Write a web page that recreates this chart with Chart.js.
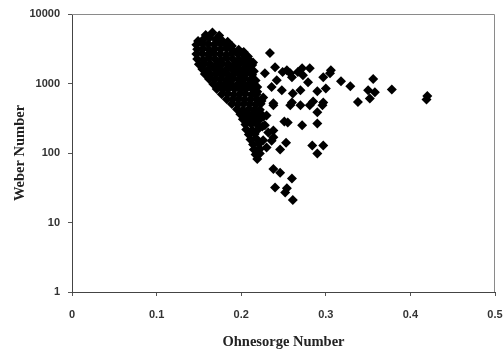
<!DOCTYPE html>
<html>
<head>
<meta charset="utf-8">
<script src="https://cdn.jsdelivr.net/npm/chart.js@4/dist/chart.umd.min.js"></script>
<style>
html,body{margin:0;padding:0;background:#fff;}
#c{display:block;}
</style>
</head>
<body>
<canvas id="c" width="503" height="351"></canvas>
<script>
// Dense cluster (Ohnesorge, Weber)
const denseOh = [
0.158,0.166,0.174,
0.149,0.156,0.163,0.170,0.177,0.184,
0.147,0.154,0.161,0.168,0.175,0.182,0.189,
0.148,0.155,0.162,0.169,0.176,0.183,0.190,0.197,0.203,
0.147,0.154,0.161,0.168,0.175,0.182,0.189,0.196,0.203,0.208,
0.148,0.155,0.162,0.169,0.176,0.183,0.190,0.197,0.204,0.210,
0.150,0.157,0.164,0.171,0.178,0.185,0.192,0.199,0.206,0.213,
0.154,0.161,0.168,0.175,0.182,0.189,0.196,0.203,0.210,0.215,
0.157,0.164,0.171,0.178,0.185,0.192,0.199,0.206,0.213,
0.162,0.169,0.176,0.183,0.190,0.197,0.204,0.211,0.217,
0.167,0.174,0.181,0.188,0.195,0.202,0.209,0.215,
0.171,0.178,0.185,0.192,0.199,0.206,0.213,0.219,
0.177,0.184,0.191,0.198,0.205,0.212,0.218,
0.183,0.190,0.197,0.204,0.211,0.218,0.224,
0.189,0.196,0.203,0.210,0.217,0.223,
0.195,0.202,0.209,0.216,0.222,
0.199,0.206,0.213,0.220,0.226,
0.202,0.209,0.216,0.222,
0.205,0.212,0.219,0.225,
0.206,0.213,0.220,
0.209,0.216,
0.211,0.218,
0.214,0.221,
0.215,0.222,
0.217,
0.219
];
const denseWe = [
5000,5400,4900,
4100,4400,4600,4300,4200,4000,
3600,3800,3700,3650,3750,3600,3450,
3100,3200,3050,3150,3100,3200,3000,3050,2850,
2650,2700,2600,2700,2650,2600,2700,2650,2550,2450,
2250,2200,2300,2250,2200,2300,2250,2200,2250,2150,
1900,1950,1880,1900,1920,1870,1900,1950,1880,1850,
1620,1600,1650,1600,1580,1630,1600,1620,1580,1500,
1370,1350,1380,1360,1340,1370,1350,1380,1340,
1160,1150,1170,1140,1160,1150,1170,1140,1100,
980,970,990,980,960,990,980,970,
830,820,840,830,820,840,830,760,
700,710,690,700,710,690,700,
595,590,600,595,590,600,560,
505,500,510,505,500,510,
425,420,430,425,420,
360,365,355,360,330,
305,300,310,305,
258,262,255,240,
218,215,220,
185,188,
157,160,
133,135,
112,114,
95,
82
];
// Scattered points (Ohnesorge, Weber)
const sparseOh = [
0.420,0.419,0.378,0.356,0.350,0.358,0.352,0.338,0.329,0.318,
0.305,0.306,0.297,0.290,0.300,0.297,0.281,0.267,0.272,0.258,
0.254,0.279,0.270,0.285,0.255,0.251,0.272,0.290,0.284,0.297,
0.290,0.253,0.246,0.238,0.230,0.222,0.219,0.238,0.246,0.260,
0.240,0.254,0.252,0.261,0.234,0.202,0.214,0.228,0.240,0.249,
0.260,0.242,0.236,0.248,0.260,0.238,0.226,0.219,0.230,0.238,
0.238,0.258,0.270,0.281,0.296,0.290,0.236,0.261,0.273,0.225,
0.228,0.232,0.226
];
const sparseWe = [
660,590,818,1160,800,750,610,542,912,1077,
1406,1550,1230,775,850,535,1660,1460,1660,1400,
1550,1040,800,550,275,285,250,265,128,128,
98,141,112,168,120,98,109,59,52,43,
32,31,27,21,2750,2750,2000,1400,1720,1460,
1230,1110,890,800,535,520,630,890,345,211,
485,485,485,485,485,385,150,720,1316,350,
250,198,152
];
const xTicks = [0, 0.1, 0.2, 0.3, 0.4, 0.5];
const xTickLabels = ['0', '0.1', '0.2', '0.3', '0.4', '0.5'];
const yTicks = [1, 10, 100, 1000, 10000];
const yTickLabels = ['1', '10', '100', '1000', '10000'];

const points = [];
denseOh.forEach((x, i) => points.push({x: x, y: denseWe[i]}));
sparseOh.forEach((x, i) => points.push({x: x, y: sparseWe[i]}));

const framePlugin = {
  id: 'frame',
  afterDraw(chart) {
    const a = chart.chartArea, ctx = chart.ctx;
    ctx.save();
    ctx.strokeStyle = '#8a8a8a';
    ctx.lineWidth = 1;
    ctx.beginPath();
    ctx.moveTo(a.left, a.top + 0.5);
    ctx.lineTo(a.right - 0.5, a.top + 0.5);
    ctx.lineTo(a.right - 0.5, a.bottom);
    ctx.stroke();
    ctx.restore();
  }
};

const tickFont = {family: 'Liberation Sans', size: 11, weight: 'bold'};
const titleFont = {family: 'Liberation Serif', size: 14.5, weight: 'bold'};

new Chart(document.getElementById('c'), {
  type: 'scatter',
  data: {
    datasets: [{
      data: points,
      pointStyle: 'rectRot',
      pointRadius: 5,
      pointHoverRadius: 5,
      backgroundColor: '#000',
      borderColor: '#000',
      borderWidth: 0
    }]
  },
  options: {
    responsive: false,
    animation: false,
    devicePixelRatio: 1,
    layout: {padding: {top: 14, right: 0, left: 0, bottom: 0}},
    plugins: {legend: {display: false}, tooltip: {enabled: false}},
    scales: {
      x: {
        type: 'linear',
        min: 0, max: 0.5,
        afterBuildTicks: (s) => { s.ticks = xTicks.map(v => ({value: v})); },
        afterFit: (s) => { s.height = 59; s.paddingRight = 8; s.paddingLeft = 0; },
        ticks: {
          font: tickFont, color: '#333', padding: 12, maxRotation: 0,
          callback: (v) => { const i = xTicks.indexOf(v); return i >= 0 ? xTickLabels[i] : ''; }
        },
        grid: {drawOnChartArea: false, drawTicks: true, tickLength: 4, color: '#555'},
        border: {display: true, color: '#444', width: 1},
        title: {display: true, text: 'Ohnesorge Number', font: titleFont, color: '#222', padding: {top: 6, bottom: 0}}
      },
      y: {
        type: 'logarithmic',
        min: 1, max: 10000,
        afterBuildTicks: (s) => { s.ticks = yTicks.map(v => ({value: v})); },
        afterFit: (s) => { s.width = 72; s.paddingTop = 0; s.paddingBottom = 0; },
        ticks: {
          font: tickFont, color: '#333', padding: 8,
          callback: (v) => { const i = yTicks.indexOf(v); return i >= 0 ? yTickLabels[i] : ''; }
        },
        grid: {drawOnChartArea: false, drawTicks: true, tickLength: 4, color: '#555'},
        border: {display: true, color: '#444', width: 1},
        title: {display: true, text: 'Weber Number', font: titleFont, color: '#222', padding: {top: 12, bottom: 0}}
      }
    }
  },
  plugins: [framePlugin]
});
</script>
</body>
</html>
